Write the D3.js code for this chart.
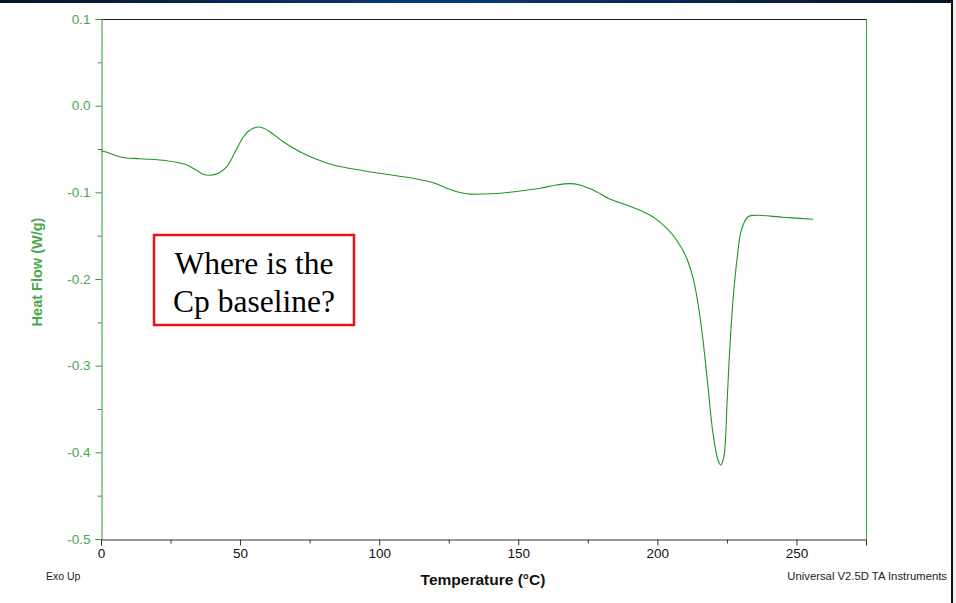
<!DOCTYPE html>
<html>
<head>
<meta charset="utf-8">
<script src="https://cdn.jsdelivr.net/npm/d3@7"></script>
<style>
  html, body { margin: 0; padding: 0; background: #ffffff; }
  svg { display: block; }
  text { font-family: "Liberation Sans", Arial, sans-serif; }
</style>
</head>
<body>
<svg id="chart" width="956" height="603"></svg>
<script>
// DSC trace: temperature (°C) vs heat flow (W/g)
const temperature = [0, 2.1, 7.4, 14.0, 23.6, 30.2, 33.8, 36.8, 39.2, 42.2, 45.2, 48.2, 51.1, 53.0, 55.0, 57.1, 60.7,
  65.5, 71.5, 77.5, 83.5, 90.7, 100.0, 112.2, 119.4, 125.4, 131.4, 141.0, 150.6, 157.8, 163.8, 168.5,
  172.1, 176.9, 182.9, 188.9, 194.9, 199.0, 203.5, 206.9, 210.5, 212.8, 214.6, 216.4, 218.2, 220.0,
  221.8, 222.8, 223.9, 225.1, 226.0, 227.2, 228.6, 230.2, 232.6, 235.6, 245.2, 256.0];
const heatFlow = [-0.052, -0.0538, -0.0595, -0.0612, -0.0635, -0.0677, -0.0734, -0.0792, -0.0803, -0.0780,
  -0.0704, -0.0535, -0.0365, -0.0295, -0.0258, -0.0246, -0.0300, -0.0416, -0.0531, -0.0619, -0.0685, -0.0731,
  -0.0780, -0.0838, -0.0889, -0.0965, -0.1016, -0.1016, -0.0985, -0.0953, -0.0915, -0.0900, -0.0915,
  -0.0973, -0.1077, -0.1146, -0.1223, -0.1295, -0.1420, -0.1550, -0.1758, -0.1988, -0.2280,
  -0.2704, -0.3243, -0.3781, -0.4088, -0.4146, -0.4050, -0.3396, -0.2819, -0.2242, -0.1781, -0.1435,
  -0.1281, -0.1265, -0.1288, -0.1311];

const xTickValues = [0, 50, 100, 150, 200, 250];
const xMinorTicks = [25, 75, 125, 175, 225, 275];
const yTickValues = [0.1, 0.0, -0.1, -0.2, -0.3, -0.4, -0.5];
const yMinorTicks = [0.05, -0.05, -0.15, -0.25, -0.35, -0.45];

const svg = d3.select("#chart");
const W = 956, H = 603;
const plot = { left: 101, right: 866, top: 19, bottom: 539 };

const green = "#2f9a2f";
const labelGreen = "#4aa84a";

// Window frame: dark blue strip along the top and a dark border on the right
const grad = svg.append("defs").append("linearGradient").attr("id", "topbar");
grad.append("stop").attr("offset", "0%").attr("stop-color", "#05152a");
grad.append("stop").attr("offset", "45%").attr("stop-color", "#0c3a78");
grad.append("stop").attr("offset", "100%").attr("stop-color", "#061428");
svg.append("rect").attr("x", 0).attr("y", 0).attr("width", W).attr("height", 3).attr("fill", "url(#topbar)");
svg.append("rect").attr("x", 951).attr("y", 0).attr("width", 2).attr("height", H).attr("fill", "#111");
svg.append("rect").attr("x", 953).attr("y", 0).attr("width", 3).attr("height", H).attr("fill", "#f2f2f2");

const x = d3.scaleLinear().domain([0, 275]).range([plot.left, plot.right]);
const y = d3.scaleLinear().domain([-0.5, 0.1]).range([plot.bottom, plot.top]);

// Top (black) and right (green) frame lines
svg.append("line").attr("x1", plot.left).attr("x2", plot.right).attr("y1", plot.top + 0.5).attr("y2", plot.top + 0.5)
  .attr("stroke", "#222").attr("stroke-width", 1);
svg.append("line").attr("x1", plot.right + 0.5).attr("x2", plot.right + 0.5).attr("y1", plot.top).attr("y2", plot.bottom)
  .attr("stroke", "#1faa1f").attr("stroke-width", 1);

// Y axis (green); labels use a plain hyphen for negatives
const fmt = d => d3.format(".1f")(d).replace("\u2212", "-");
const yAxis = svg.append("g").attr("transform", `translate(${plot.left + 0.5},0)`)
  .call(d3.axisLeft(y).tickValues(yTickValues).tickSize(6).tickPadding(5).tickFormat(fmt));
yAxis.select(".domain").attr("stroke", green);
yAxis.selectAll(".tick line").attr("stroke", green);
yAxis.selectAll(".tick text").attr("fill", labelGreen).style("font-size", "13.5px");
svg.append("g").attr("transform", `translate(${plot.left + 0.5},0)`)
  .call(d3.axisLeft(y).tickValues(yMinorTicks).tickSize(4).tickFormat(""))
  .call(g => g.select(".domain").remove())
  .selectAll(".tick line").attr("stroke", green);

// X axis (dark)
const xAxis = svg.append("g").attr("transform", `translate(0,${plot.bottom + 0.5})`)
  .call(d3.axisBottom(x).tickValues(xTickValues).tickSize(6).tickPadding(3));
xAxis.select(".domain").attr("stroke", "#333");
xAxis.selectAll(".tick line").attr("stroke", "#333");
xAxis.selectAll(".tick text").attr("fill", "#111").style("font-size", "13.5px");
svg.append("g").attr("transform", `translate(0,${plot.bottom + 0.5})`)
  .call(d3.axisBottom(x).tickValues(xMinorTicks).tickSize(4).tickFormat(""))
  .call(g => g.select(".domain").remove())
  .selectAll(".tick line").attr("stroke", "#333");

// Heat flow trace
const pts = temperature.map((t, i) => [t, heatFlow[i]]);
svg.append("path")
  .datum(pts)
  .attr("fill", "none")
  .attr("stroke", "#1e961e")
  .attr("stroke-width", 1.1)
  .attr("d", d3.line().x(d => x(d[0])).y(d => y(d[1])).curve(d3.curveCatmullRom.alpha(0.5)));

// Axis titles
svg.append("text")
  .attr("transform", `translate(42,272) rotate(-90)`)
  .attr("text-anchor", "middle")
  .attr("fill", labelGreen)
  .style("font-size", "14.5px").style("font-weight", "bold")
  .text("Heat Flow (W/g)");
svg.append("text")
  .attr("x", 483).attr("y", 585)
  .attr("text-anchor", "middle")
  .attr("fill", "#111")
  .style("font-size", "15.5px").style("font-weight", "bold")
  .text("Temperature (°C)");
svg.append("text")
  .attr("x", 46).attr("y", 580)
  .attr("fill", "#222")
  .style("font-size", "10.5px")
  .text("Exo Up");
svg.append("text")
  .attr("x", 947).attr("y", 580)
  .attr("text-anchor", "end")
  .attr("fill", "#222")
  .style("font-size", "11.3px")
  .text("Universal V2.5D TA Instruments");

// Callout box
const box = svg.append("g");
box.append("rect").attr("x", 154).attr("y", 235).attr("width", 200).attr("height", 90)
  .attr("fill", "#fff").attr("stroke", "#ee1111").attr("stroke-width", 2.5);
box.append("text").attr("x", 254).attr("y", 274).attr("text-anchor", "middle")
  .style("font-family", "'Liberation Serif', 'Times New Roman', serif").style("font-size", "31.5px").attr("fill", "#000")
  .text("Where is the");
box.append("text").attr("x", 254).attr("y", 312).attr("text-anchor", "middle")
  .style("font-family", "'Liberation Serif', 'Times New Roman', serif").style("font-size", "31.5px").attr("fill", "#000")
  .text("Cp baseline?");
</script>
</body>
</html>
